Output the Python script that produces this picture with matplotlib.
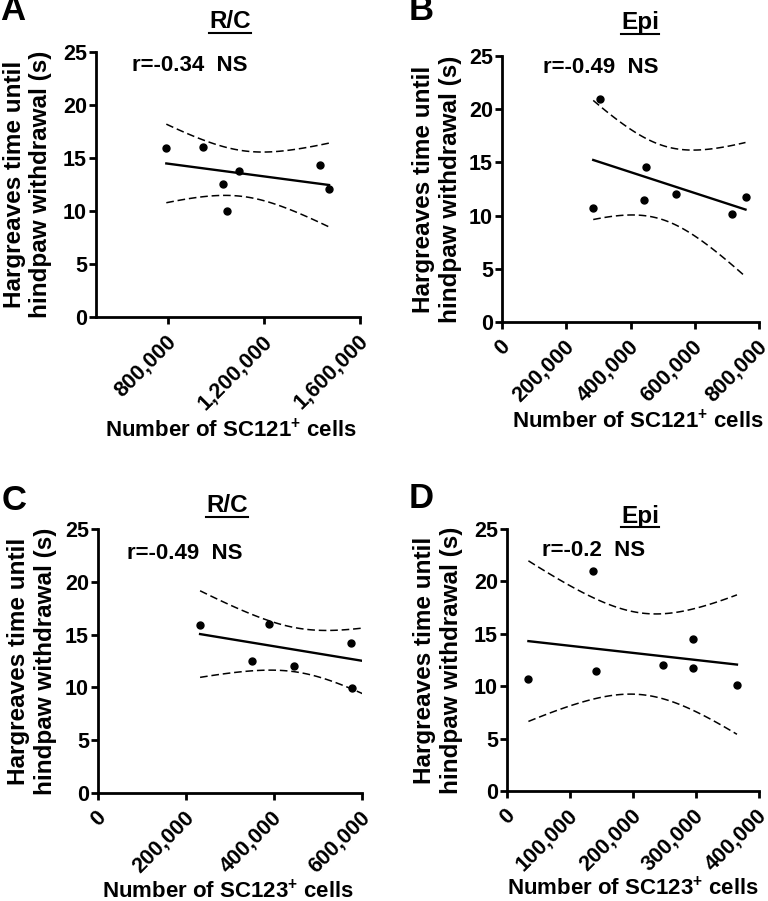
import numpy as np
import matplotlib
matplotlib.use("Agg")
import matplotlib.pyplot as plt
import matplotlib.transforms as mtransforms
from matplotlib.lines import Line2D
from matplotlib.ticker import FuncFormatter

plt.rcParams['font.family'] = ['Liberation Sans', 'DejaVu Sans']
plt.rcParams['font.weight'] = 'bold'
plt.rcParams['mathtext.fontset'] = 'custom'
plt.rcParams['mathtext.bf'] = 'Liberation Sans:bold'
plt.rcParams['mathtext.rm'] = 'Liberation Sans:bold'
plt.rcParams['mathtext.default'] = 'bf'

# data
x_a = [793000, 944000, 1029000, 1046000, 1094000, 1435000, 1471000]
y_a = [15.9, 16.0, 12.55, 9.97, 13.8, 14.3, 12.1]
x_b = [284000, 306000, 441000, 449000, 543000, 716000, 758000]
y_b = [10.75, 21.0, 11.44, 14.55, 12.07, 10.19, 11.76]
# last point of C lies past the axis end (only the fit shows it)
x_c = [232000, 350000, 388000, 445000, 576000, 578000, 620000]
y_c = [15.89, 12.5, 15.98, 12.03, 14.24, 9.9, 14.06]
x_d = [34000, 136000, 141000, 247000, 295000, 295000, 365000]
y_d = [10.73, 20.95, 11.43, 12.04, 14.52, 11.69, 10.13]

letras = ['A', 'B', 'C', 'D']
titulos = ['R/C', 'Epi', 'R/C', 'Epi']
textos_r = ['r=-0.34  NS', 'r=-0.49  NS', 'r=-0.49  NS', 'r=-0.2  NS']
xlabels = ['Number of SC121$^{+}$ cells', 'Number of SC121$^{+}$ cells',
           'Number of SC123$^{+}$ cells', 'Number of SC123$^{+}$ cells']
xlims = [(500000, 1600000), (0, 800000), (0, 600000), (0, 400000)]
xticks = [[800000, 1200000, 1600000],
          [0, 200000, 400000, 600000, 800000],
          [0, 200000, 400000, 600000],
          [0, 100000, 200000, 300000, 400000]]
# t critical values (95%, two sided) for n-2 degrees of freedom
t_crit = {4: 2.7764, 5: 2.5706}

W, H = 768, 901
fig = plt.figure(figsize=(W / 100, H / 100), dpi=100)


def fx(x):
    return x / W


def fy(y):
    return 1 - y / H


# pixel boxes: left, top, right, bottom
cajas = [(96, 52, 360, 317), (502, 56, 759, 322), (98, 529, 362, 793), (507, 529, 759, 791)]
pos_titulo = [(230, 28.5), (640, 29), (227, 512.5), (640, 522.5)]
pos_letra = [(0, 20), (409, 20), (2, 510), (409, 508)]
pos_xlabel = [(231, 430), (638, 421), (228, 891), (633, 888)]
pos_r = [(0.136, 0.95), (0.16, 0.958), (0.109, 0.909), (0.139, 0.917)]
ylab_x = [-0.165, -0.157, -0.155, -0.175]

datos = [(x_a, y_a), (x_b, y_b), (x_c, y_c), (x_d, y_d)]
# small shift so the rotated labels end right at their ticks
corrimiento = mtransforms.ScaledTranslation(-2 / 72, 0, fig.dpi_scale_trans)

titulos_txt = []
for i in range(4):
    l, t, r, b = cajas[i]
    ax = fig.add_axes([fx(l), fy(b), fx(r) - fx(l), (b - t) / H])
    x = np.array(datos[i][0], dtype=float)
    y = np.array(datos[i][1], dtype=float)

    # regression line and 95% confidence band
    n = len(x)
    pend, inter = np.polyfit(x, y, 1)
    xx = np.linspace(x.min(), x.max(), 100)
    yy = pend * xx + inter
    res = y - (pend * x + inter)
    s = np.sqrt(np.sum(res ** 2) / (n - 2))
    se = s * np.sqrt(1 / n + (xx - x.mean()) ** 2 / np.sum((x - x.mean()) ** 2))
    tc = t_crit[n - 2]
    ax.plot(xx, yy, color='k', lw=1.7, zorder=3)
    ax.plot(xx, yy + tc * se, color='k', lw=1.1, dashes=(5, 2.5))
    ax.plot(xx, yy - tc * se, color='k', lw=1.1, dashes=(5, 2.5))
    ax.plot(x, y, 'o', color='k', ms=5, zorder=4)

    ax.set_xlim(*xlims[i])
    ax.set_ylim(0, 25)
    ax.set_yticks([0, 5, 10, 15, 20, 25])
    ax.set_xticks(xticks[i])
    ax.xaxis.set_major_formatter(FuncFormatter(lambda v, p: f"{int(v):,}"))
    for lado in ['top', 'right']:
        ax.spines[lado].set_visible(False)
    for lado in ['left', 'bottom']:
        ax.spines[lado].set_linewidth(2)
    ax.tick_params(width=2, length=5, labelsize=15.5, pad=1.5)
    ax.tick_params(axis='x', pad=5)
    for lab in ax.get_xticklabels():
        lab.set_rotation(45)
        lab.set_ha('right')
        lab.set_rotation_mode('anchor')
        lab.set_fontweight('bold')
        lab.set_transform(lab.get_transform() + corrimiento)
    for lab in ax.get_yticklabels():
        lab.set_fontweight('bold')

    ax.set_ylabel('Hargreaves time until\nhindpaw withdrawal (s)', fontsize=17.5,
                  fontweight='bold', linespacing=1.2)
    ax.yaxis.set_label_coords(ylab_x[i], 0.5)
    ax.text(pos_r[i][0], pos_r[i][1], textos_r[i], transform=ax.transAxes,
            fontsize=16, fontweight='bold', va='center', ha='left')

    fig.text(fx(pos_xlabel[i][0]), fy(pos_xlabel[i][1]), xlabels[i], fontsize=16,
             fontweight='bold', ha='center', va='center')
    tt = fig.text(fx(pos_titulo[i][0]), fy(pos_titulo[i][1]), titulos[i], fontsize=17.5,
                  fontweight='bold', ha='center', va='baseline')
    titulos_txt.append(tt)
    fig.text(fx(pos_letra[i][0]), fy(pos_letra[i][1]), letras[i], fontsize=25,
             fontweight='bold', ha='left', va='baseline')

# underline the titles
fig.canvas.draw()
for i, tt in enumerate(titulos_txt):
    bb = tt.get_window_extent()
    yl = fy(pos_titulo[i][1] + 4.5)
    fig.add_artist(Line2D([fx(bb.x0), fx(bb.x1)], [yl, yl], color='k', lw=1.5,
                          transform=fig.transFigure))

fig.savefig('out.png', dpi=100)
